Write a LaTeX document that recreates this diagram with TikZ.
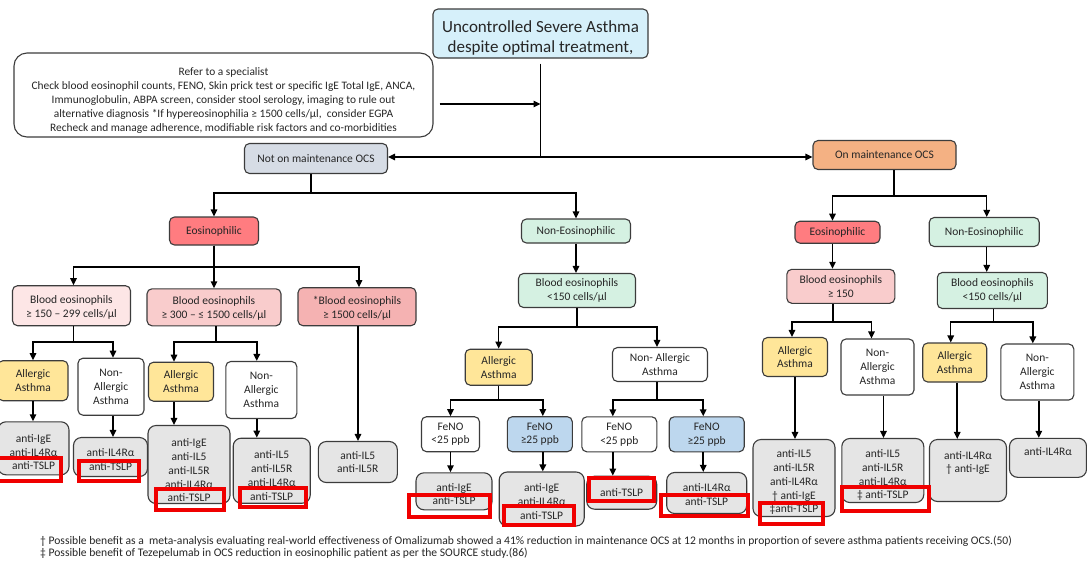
\documentclass[tikz,border=0pt]{standalone}
\usepackage{fontspec}
\setmainfont{Carlito}
\usetikzlibrary{arrows.meta,calc}

\definecolor{ink}{RGB}{38,38,38}
\definecolor{edge}{RGB}{60,60,60}
\definecolor{topblue}{RGB}{214,240,250}
\definecolor{notgray}{RGB}{214,220,229}
\definecolor{ocsorange}{RGB}{244,177,131}
\definecolor{eosred}{RGB}{255,124,128}
\definecolor{mint}{RGB}{213,241,226}
\definecolor{pinkA}{RGB}{253,230,230}
\definecolor{pinkB}{RGB}{249,204,204}
\definecolor{pinkC}{RGB}{245,178,178}
\definecolor{allergy}{RGB}{255,230,153}
\definecolor{fenoblue}{RGB}{189,215,238}
\definecolor{drug}{RGB}{229,229,229}
\definecolor{mark}{RGB}{240,0,0}

\tikzset{
  base/.style={draw=edge, line width=1.1pt, rounded corners=5pt, align=center,
    text=ink, inner sep=1pt, font=\fontsize{11.5}{13.8}\selectfont},
  drugbox/.style={base, fill=drug, rounded corners=8pt},
  hilite/.style={draw=mark, line width=4pt, inner sep=0pt},
  ln/.style={draw=black, line width=1.5pt},
  arr/.style={ln, -{Triangle[length=7pt,width=6.5pt]}},
}

% box: style, name, centre, width, height, text
\newcommand\bx[6]{\node[base,#1,minimum width=#4pt,minimum height=#5pt] (#2) at (#3) {#6};}
% red frame: name, centre, width, height
\newcommand\hl[4]{\node[hilite,minimum width=#3pt,minimum height=#4pt] (#1) at (#2) {};}
% strut on a first line, to set the text lower in its box
\newcommand\padtop[1]{\rule{0pt}{#1pt}}
% branch: parent, x offset on parent, level, child, x offset on child
\newcommand\branchto[5]{%
  \path ($(#1.south)+(#2,0)$) coordinate (from) ($(#4.north)+(#5,0)$) coordinate (to);
  \draw[arr] (from) -- (from |- #3) -| (to);}
% straight drop: parent, x offset, child
\newcommand\dropto[3]{%
  \path ($(#1.south)+(#2,0)$) coordinate (from);
  \draw[arr] (from) -- (from |- #3.north);}

\begin{document}
\begin{tikzpicture}[x=1pt,y=-1pt]
\useasboundingbox[fill=white] (0,0) rectangle (1087,563);

% horizontal levels of the connector network
\coordinate (lv0) at (0,157);
\coordinate (lv1) at (0,193);
\coordinate (lv2) at (0,267);
\coordinate (lv3) at (0,342);
\coordinate (lv4) at (0,327);
\coordinate (lv5) at (0,400);
\coordinate (lv6) at (0,196);
\coordinate (lv7) at (0,322);

% ---- top ----
\node[base, fill=topblue, minimum width=215pt, minimum height=49pt,
  font=\fontsize{17}{19.5}\selectfont] (top) at (540.5,33.5)
  {\padtop{21}Uncontrolled Severe Asthma\\despite optimal treatment,};
\node[base, rounded corners=13pt, minimum width=419pt, minimum height=84pt,
  font=\fontsize{11.4}{14.2}\selectfont] (refer) at (223.5,95)
  {\padtop{19}Refer to a specialist\\
   Check blood eosinophil counts, FENO, Skin prick test or specific IgE Total IgE, ANCA,\\
   Immunoglobulin, ABPA screen, consider stool serology, imaging to rule out\\
   alternative diagnosis *If hypereosinophilia ≥ 1500 cells/µl,\ \ consider EGPA\\
   Recheck and manage adherence, modifiable risk factors and co-morbidities};

\bx{fill=notgray}{notocs}{316,158.5}{143}{30}{Not on maintenance OCS}
\bx{fill=ocsorange}{onocs}{884.5,155}{143}{29}{On maintenance OCS}

% ---- not on maintenance OCS ----
\bx{fill=eosred}{eos}{214,231}{89}{28}{Eosinophilic}
\bx{fill=mint}{noneos}{576,231}{109}{24}{Non-Eosinophilic}

\bx{fill=pinkA}{bA}{71.5,305.7}{118}{40}{\padtop{11}Blood eosinophils\\≥ 150 – 299 cells/µl}
\bx{fill=pinkB}{bB}{214,307.3}{134}{37}{\padtop{11}Blood eosinophils\\≥ 300 – ≤ 1500 cells/µl}
\bx{fill=pinkC}{bC}{357,306.7}{118}{38}{\padtop{11}*Blood eosinophils\\≥ 1500 cells/µl}
\bx{fill=mint}{bM}{577,290.5}{117}{34}{Blood eosinophils\\<150 cells/µl}

\bx{fill=allergy}{aA}{33,380.7}{70}{40}{Allergic\\Asthma}
\bx{fill=white}{nA}{111,386.7}{66}{57}{Non-\\Allergic\\Asthma}
\bx{fill=allergy}{aB}{181,381.7}{65}{39}{Allergic\\Asthma}
\bx{fill=white}{nB}{261.3,390}{71}{57}{Non-\\Allergic\\Asthma}
\bx{fill=allergy}{aM}{498.7,367.2}{67}{36}{Allergic\\Asthma}
\bx{fill=white}{nM}{660,364.5}{95}{34}{Non- Allergic\\Asthma}

\bx{fill=white}{fA}{450.5,434.2}{58}{35}{FeNO\\<25 ppb}
\bx{fill=fenoblue}{fB}{539.8,434.2}{65}{35}{FeNO\\≥25 ppb}
\bx{fill=white}{fC}{619.3,434.3}{75}{35}{FeNO\\<25 ppb}
\bx{fill=fenoblue}{fD}{706.7,434.3}{75}{35}{FeNO\\≥25 ppb}

\bx{drugbox}{rA}{33.5,448.3}{71}{53}{\padtop{15.5}anti-IgE\\anti-IL4Rα\\anti-TSLP}
\bx{drugbox}{rB}{110.5,457}{74}{39}{\padtop{12.5}anti-IL4Rα\\anti-TSLP}
\bx{drugbox}{rC}{189,464.5}{82}{78}{\padtop{19.5}anti-IgE\\anti-IL5\\anti-IL5R\\anti-IL4Rα\\anti-TSLP}
\bx{drugbox}{rD}{271.7,470.7}{77}{65}{\padtop{17.5}anti-IL5\\anti-IL5R\\anti-IL4Rα\\anti-TSLP}
\bx{drugbox}{rE}{357.8,462}{79}{41}{anti-IL5\\anti-IL5R}
\bx{drugbox}{rF}{454,491.3}{76}{37}{\padtop{13.5}anti-IgE\\anti-TSLP}
\bx{drugbox}{rG}{541.7,499}{85}{54}{\padtop{12.5}anti-IgE\\anti-IL4Rα\\anti-TSLP}
\bx{drugbox}{rH}{621.7,492.7}{70}{33}{anti-TSLP}
\bx{drugbox}{rI}{706.7,493}{80}{41}{\padtop{11.5}anti-IL4Rα\\anti-TSLP}

% ---- on maintenance OCS ----
\bx{fill=eosred}{eosR}{837.5,232.2}{85}{22}{Eosinophilic}
\bx{fill=mint}{noneosR}{984.2,232}{110}{29}{Non-Eosinophilic}
\bx{fill=pinkB}{bR}{840.8,286.3}{108}{34}{Blood eosinophils\\≥ 150}
\bx{fill=mint}{bS}{992.3,290.5}{110}{36}{Blood eosinophils\\<150 cells/µl}
\bx{fill=allergy}{aR}{795,357}{65}{39}{Allergic\\Asthma}
\bx{fill=white}{nR}{877.5,367}{73}{56}{Non-\\Allergic\\Asthma}
\bx{fill=allergy}{aS}{954.7,362.5}{64}{39}{Allergic\\Asthma}
\bx{fill=white}{nS}{1037.3,372}{73}{56}{Non-\\Allergic\\Asthma}

\bx{drugbox}{rJ}{794,478}{82}{77}{\padtop{16.5}anti-IL5\\anti-IL5R\\anti-IL4Rα\\† anti-IgE\\‡anti-TSLP}
\bx{drugbox}{rK}{882.8,470.5}{82}{64}{\padtop{17.5}anti-IL5\\anti-IL5R\\anti-IL4Rα\\‡ anti-TSLP}
\bx{drugbox,text depth=17pt}{rL}{968,470.5}{77}{62}{anti-IL4Rα\\† anti-IgE}
\bx{drugbox,text depth=12pt}{rM}{1048,457.8}{77}{39}{anti-IL4Rα}

% ---- connectors ----
\draw[ln] ($(top.south)+(0,5)$) -- (top.south |- lv0);
\draw[arr] (top.south |- lv0) -- (notocs.east |- lv0);
\draw[arr] (top.south |- lv0) -- (onocs.west |- lv0);
\coordinate (referout) at ($(refer.east)+(6,9)$);
\draw[arr] (referout) -- (referout -| top.south);

\branchto{notocs}{-5}{lv1}{eos}{0}
\branchto{notocs}{-5}{lv1}{noneos}{0}
\branchto{eos}{0}{lv2}{bA}{2}
\branchto{eos}{0}{lv2}{bB}{0}
\branchto{eos}{0}{lv2}{bC}{2}
\branchto{bA}{2}{lv3}{aA}{0}
\branchto{bA}{2}{lv3}{nA}{2}
\branchto{bB}{2}{lv3}{aB}{-7}
\branchto{bB}{2}{lv3}{nB}{-4.5}
\dropto{aA}{0}{rA}
\dropto{nA}{2}{rB}
\dropto{aB}{-7}{rC}
\dropto{nB}{-4.5}{rD}
\dropto{bC}{1}{rE}

\dropto{noneos}{0}{bM}
\branchto{bM}{0}{lv4}{aM}{0}
\branchto{bM}{0}{lv4}{nM}{-3}
\branchto{aM}{0}{lv5}{fA}{0}
\branchto{aM}{0}{lv5}{fB}{3}
\branchto{nM}{-3}{lv5}{fC}{-6.5}
\branchto{nM}{-3}{lv5}{fD}{-3.5}
\dropto{fA}{0}{rF}
\dropto{fB}{3}{rG}
\dropto{fC}{-6.5}{rH}
\dropto{fD}{-3.5}{rI}

\branchto{onocs}{9.5}{lv6}{eosR}{-5}
\branchto{onocs}{9.5}{lv6}{noneosR}{2.5}
\dropto{eosR}{-5}{bR}
\dropto{noneosR}{2.5}{bS}
\branchto{bR}{-8}{lv7}{aR}{-3}
\branchto{bR}{-8}{lv7}{nR}{-6}
\branchto{bS}{1}{lv7}{aS}{-4}
\branchto{bS}{1}{lv7}{nS}{-4.5}
\dropto{aR}{0}{rJ}
\dropto{nR}{6}{rK}
\dropto{aS}{2.5}{rL}
\dropto{nS}{1.5}{rM}

% ---- red frames round the anti-TSLP entries ----
\hl{hA}{29,469.7}{64}{23}
\hl{hB}{108.7,471.2}{60}{20.3}
\hl{hC}{189.8,499.5}{67.7}{20.4}
\hl{hD}{273.3,497.5}{66}{19}
\hl{hF}{449.2,506.2}{81}{21.7}
\hl{hG}{538.7,515.3}{70}{18.7}
\hl{hH}{621.2,489.7}{65}{23.3}
\hl{hI}{704.7,505.2}{86.7}{21}
\hl{hJ}{791.7,513.3}{62.7}{21.3}
\hl{hK}{885.3,498.8}{86.7}{23.7}

% ---- footnotes ----
\node[anchor=base west, inner sep=0pt, text=ink, font=\fontsize{11.6}{12}\selectfont] (fn1) at (40,544.5)
  {† Possible benefit as a \ meta-analysis evaluating real-world effectiveness of Omalizumab showed a 41\% reduction in maintenance OCS at 12 months in proportion of severe asthma patients receiving OCS.(50)};
\node[anchor=base west, inner sep=0pt, text=ink, font=\fontsize{11.6}{12}\selectfont] (fn2) at (40,556.5)
  {‡ Possible benefit of Tezepelumab in OCS reduction in eosinophilic patient as per the SOURCE study.(86)};
\end{tikzpicture}
\end{document}
